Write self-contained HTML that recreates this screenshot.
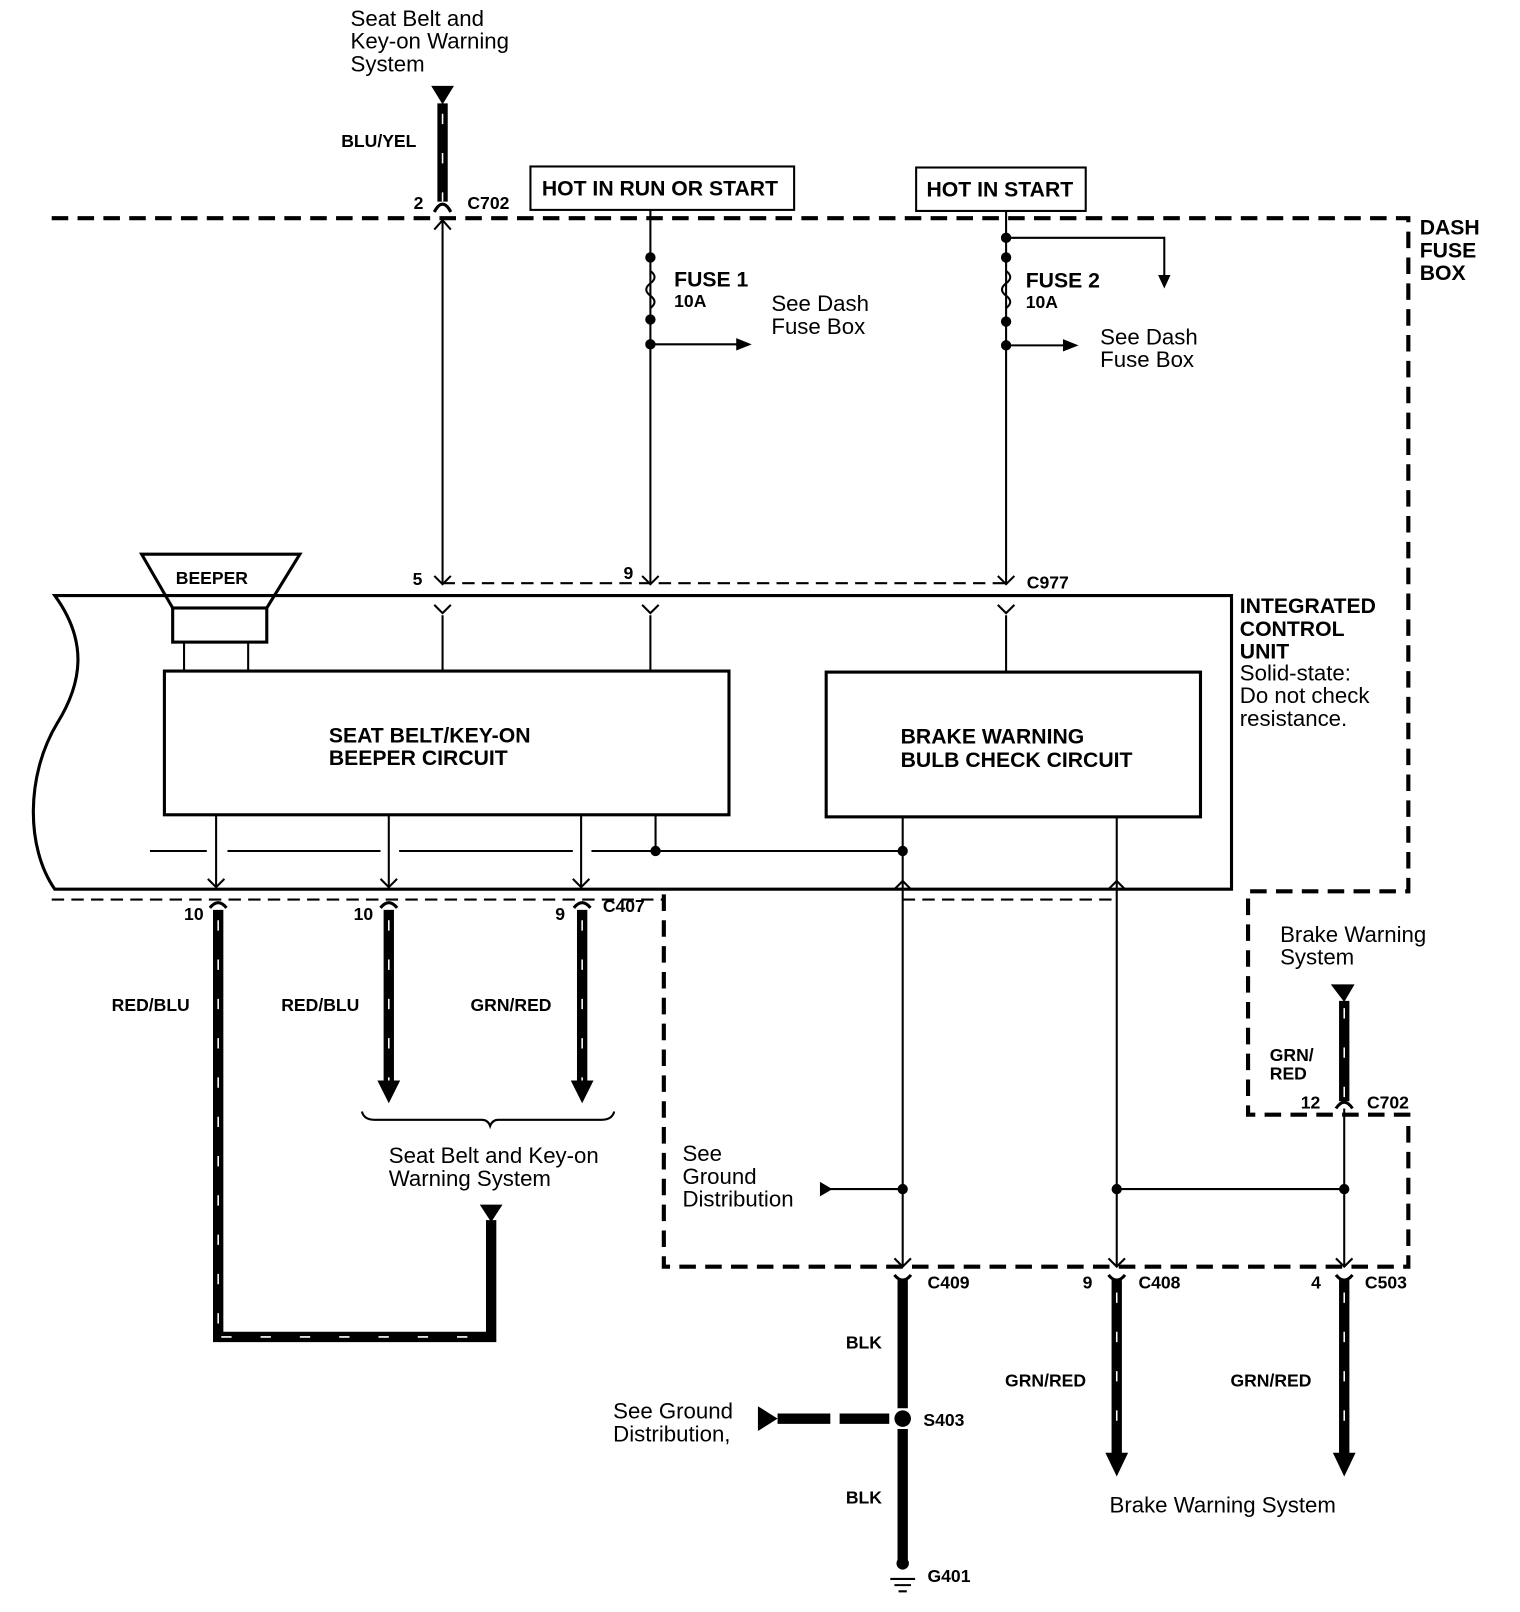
<!DOCTYPE html>
<html><head><meta charset="utf-8"><style>
html,body{margin:0;padding:0;background:#fff}
svg{display:block}
text{font-family:"Liberation Sans",Arial,sans-serif;fill:#000}
</style></head><body>
<svg width="1520" height="1612" viewBox="0 0 1470 1559" preserveAspectRatio="none" xmlns="http://www.w3.org/2000/svg">
<rect width="1470" height="1559" fill="#fff"/>
<g fill="none" stroke="#000">
<path d="M50 211 H1362 V862 H1207 V1078 H1362 V1225 H642 V862" stroke-width="4" stroke-dasharray="16 9"/>
<path d="M50 870 H642" stroke-width="2" stroke-dasharray="12 7"/>
<path d="M428 564 H973" stroke-width="2" stroke-dasharray="12 7"/>
<path d="M873 870 H1080" stroke-width="2" stroke-dasharray="12 7"/>
<rect x="513" y="161" width="255" height="42" stroke-width="2"/>
<rect x="886" y="162" width="164" height="42" stroke-width="2"/>
<path d="M1191 576 H53 C85 620 80 660 55 700 C25 750 25 820 53 860 H1191 Z" stroke-width="3"/>
<path d="M137 536 H290 L258 588 H167 Z" stroke-width="3"/>
<rect x="167" y="588" width="91" height="33" stroke-width="3"/>
<rect x="178" y="621" width="62" height="28" stroke-width="2"/>
<rect x="159" y="649" width="546" height="139" stroke-width="3"/>
<rect x="799" y="650" width="362" height="140" stroke-width="3"/>
<path d="M428 213 V565 M629 203 V565 M973 204 V565" stroke-width="2"/>
<path d="M973 230 H1126 V272 M629 333 H715 M973 334 H1030" stroke-width="2"/>
<path d="M428 595 V649 M629 595 V649 M973 595 V650" stroke-width="2"/>
<path d="M209 788 V858 M376 788 V858 M562 788 V858 M634 788 V823 M873 790 V1225 M1080 790 V1225 M1300 1072 V1225" stroke-width="2"/>
<path d="M145 823 H200 M220 823 H368 M386 823 H554 M572 823 H873" stroke-width="2"/>
<path d="M800 1150 H873 M1080 1150 H1300" stroke-width="2"/>
<path d="M629 262 q8 6 0 12 q-8 6 0 12 q8 6 0 12" stroke-width="2"/>
<path d="M973 262 q8 6 0 12 q-8 6 0 12 q8 6 0 12" stroke-width="2"/>
<path d="M420 222 L428 213 L436 222 M420 557 L428 565 L436 557 M621 557 L629 565 L637 557 M965 557 L973 565 L981 557" stroke-width="2"/>
<path d="M201 850 L209 858 L217 850 M368 850 L376 858 L384 850 M554 850 L562 858 L570 850" stroke-width="2"/>
<path d="M865 1217 L873 1225 L881 1217 M1072 1217 L1080 1225 L1088 1217 M1292 1217 L1300 1225 L1308 1217" stroke-width="2"/>
<path d="M420 585 L428 593 L436 585 M621 585 L629 593 L637 585 M965 585 L973 593 L981 585" stroke-width="2"/>
<path d="M865 860 L873 852 L881 860 M1072 860 L1080 852 L1088 860" stroke-width="2"/>
<path d="M420 205 Q428 190 436 205 M1292 1072 Q1300 1060 1308 1072" stroke-width="3"/>
<path d="M203 878 Q211 868 219 878 M368 878 Q376 868 384 878 M555 878 Q563 868 571 878" stroke-width="3"/>
<path d="M865 1233 Q873 1243 881 1233 M1072 1233 Q1080 1243 1088 1233 M1292 1233 Q1300 1243 1308 1233" stroke-width="3"/>
<path d="M350 1075 Q352 1083 362 1083 H466 Q472 1083 474 1089 Q476 1083 482 1083 H582 Q592 1083 594 1075" stroke-width="2"/>
<g stroke-width="10">
<path d="M428 100 V195"/>
<path d="M211 880 V1293 H475 V1180"/>
<path d="M376 880 V1050 M563 880 V1050"/>
<path d="M1300 968 V1065"/>
<path d="M873 1238 V1362 M873 1382 V1512"/>
<path d="M1080 1238 V1410 M1300 1238 V1410"/>
<path d="M752 1372 H803 M812 1372 H860"/>
</g>
<g stroke="#fff" stroke-width="1.5" stroke-dasharray="10 28">
<path d="M428 110 V195"/>
<path d="M211 890 V1290 M214 1293 H475"/>
<path d="M376 890 V1050 M563 890 V1050 M1300 975 V1065"/>
<path d="M1080 1250 V1400 M1300 1250 V1400"/>
</g>
<path d="M861 1527 H885 M865 1533 H881 M869 1539 H877" stroke-width="2"/>
</g>
<g fill="#000">
<circle cx="629" cy="249" r="5"/><circle cx="629" cy="309" r="5"/><circle cx="629" cy="333" r="5"/>
<circle cx="973" cy="230" r="5"/><circle cx="973" cy="249" r="5"/><circle cx="973" cy="311" r="5"/><circle cx="973" cy="334" r="5"/>
<circle cx="634" cy="823" r="5"/><circle cx="873" cy="823" r="5"/>
<circle cx="873" cy="1150" r="5"/><circle cx="1080" cy="1150" r="5"/><circle cx="1300" cy="1150" r="5"/>
<circle cx="873" cy="1372" r="8"/>
<circle cx="873" cy="1512" r="6"/>
<path d="M417 83 H439 L428 101 Z"/>
<path d="M1287 952 H1310 L1300 969 Z"/>
<path d="M464 1165 H486 L475 1182 Z"/>
<path d="M727 333 L712 327 V339 Z M1043 334 L1028 328 V340 Z M1126 279 L1120 266 H1132 Z"/>
<path d="M365 1045 H387 L376 1067 Z M552 1045 H574 L563 1067 Z"/>
<path d="M1069 1405 H1091 L1080 1428 Z M1289 1405 H1311 L1300 1428 Z"/>
<path d="M793 1143 L805 1150 L793 1157 Z"/>
<path d="M733 1360 L752 1372 L733 1384 Z"/>
</g>
<g font-size="21.5">
<text x="339" y="25">Seat Belt and</text>
<text x="339" y="47">Key-on Warning</text>
<text x="339" y="69">System</text>
<text x="746" y="301">See Dash</text><text x="746" y="323">Fuse Box</text>
<text x="1064" y="333">See Dash</text><text x="1064" y="355">Fuse Box</text>
<text x="1199" y="658">Solid-state:</text><text x="1199" y="680">Do not check</text><text x="1199" y="702">resistance.</text>
<text x="376" y="1125">Seat Belt and Key-on</text><text x="376" y="1147">Warning System</text>
<text x="660" y="1123">See</text><text x="660" y="1145">Ground</text><text x="660" y="1167">Distribution</text>
<text x="1238" y="911">Brake Warning</text><text x="1238" y="933">System</text>
<text x="593" y="1372">See Ground</text><text x="593" y="1394">Distribution,</text>
<text x="1073" y="1463">Brake Warning System</text>
</g>
<g font-size="20.5" style="font-weight:bold">
<text x="524" y="189">HOT IN RUN OR START</text>
<text x="896" y="190">HOT IN START</text>
<text x="652" y="277">FUSE 1</text><text x="992" y="278">FUSE 2</text>
<text x="1373" y="227">DASH</text><text x="1373" y="249">FUSE</text><text x="1373" y="271">BOX</text>
<text x="1199" y="593">INTEGRATED</text><text x="1199" y="615">CONTROL</text><text x="1199" y="637">UNIT</text>
<text x="318" y="718">SEAT BELT/KEY-ON</text><text x="318" y="740">BEEPER CIRCUIT</text>
<text x="871" y="719">BRAKE WARNING</text><text x="871" y="742">BULB CHECK CIRCUIT</text>
</g>
<g style="font-weight:bold" font-size="17">
<text x="652" y="297">10A</text><text x="992" y="298">10A</text>
<text x="170" y="565">BEEPER</text>
<text x="330" y="142">BLU/YEL</text>
<text x="400" y="202">2</text><text x="452" y="202">C702</text>
<text x="399" y="566">5</text><text x="603" y="560">9</text><text x="993" y="569">C977</text>
<text x="178" y="890">10</text><text x="342" y="890">10</text><text x="537" y="890">9</text><text x="583" y="882">C407</text>
<text x="108" y="978">RED/BLU</text><text x="272" y="978">RED/BLU</text><text x="455" y="978">GRN/RED</text>
<text x="1228" y="1026">GRN/</text><text x="1228" y="1044">RED</text>
<text x="1258" y="1072">12</text><text x="1322" y="1072">C702</text>
<text x="897" y="1246">C409</text><text x="1047" y="1246">9</text><text x="1101" y="1246">C408</text><text x="1268" y="1246">4</text><text x="1320" y="1246">C503</text>
<text x="818" y="1304">BLK</text><text x="818" y="1454">BLK</text>
<text x="972" y="1341">GRN/RED</text><text x="1190" y="1341">GRN/RED</text>
<text x="893" y="1379">S403</text><text x="897" y="1530">G401</text>
</g>
</svg>
</body></html>
